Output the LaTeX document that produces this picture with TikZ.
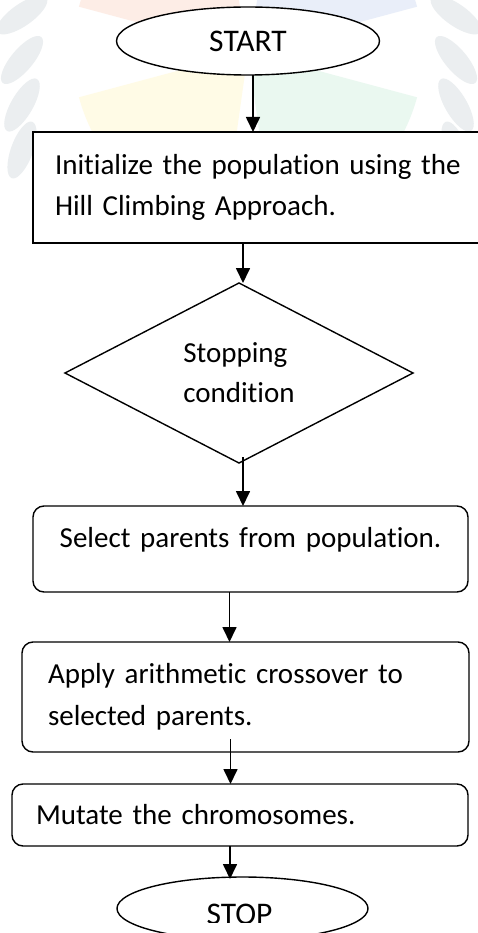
\documentclass[tikz,border=0pt]{standalone}
\usepackage{fontspec}
\setmainfont[Ligatures={NoCommon}]{Carlito}
\usepackage{tikz}
\usetikzlibrary{arrows.meta,positioning,shapes.geometric}
\definecolor{wmorange}{HTML}{FDEDE6}
\definecolor{wmblue}{HTML}{E9EEF9}
\definecolor{wmyellow}{HTML}{FFFBE6}
\definecolor{wmgreen}{HTML}{EAF8F0}
\definecolor{wmgrey}{HTML}{EBEEF0}
\tikzset{
  terminal/.style={
    ellipse,
    draw=black,
    fill=white,
    line width=1.4pt,
    minimum width=263pt,
    minimum height=68pt,
    inner sep=0pt,
    outer sep=0pt,
    font=\fontsize{31.5}{36}\selectfont
  },
  stepbox/.style={
    draw=black,
    fill=white,
    line width=1.4pt,
    align=left,
    inner xsep=22pt,
    inner ysep=0pt,
    outer sep=0pt,
    font=\fontsize{29}{41.5}\selectfont
  },
  roundstep/.style={
    stepbox,
    rounded corners=11pt
  },
  decision/.style={
    diamond,
    aspect=1.93,
    draw=black,
    fill=white,
    line width=1.4pt,
    align=left,
    minimum width=348pt,
    minimum height=180pt,
    inner sep=0pt,
    outer sep=0pt,
    font=\fontsize{29}{40}\selectfont
  },
  flowarrow/.style={
    -{Triangle[length=15pt,width=14pt]},
    line width=1.7pt,
    draw=black
  },
  leaf/.style={
    fill=wmgrey,
    draw=none
  }
}

\begin{document}
\begin{tikzpicture}[x=1pt,y=1pt]
  \useasboundingbox (0,0) rectangle (478,-933);
  \fill[white] (0,0) rectangle (478,-933);

  % faint watermark behind the chart
  \fill[wmorange] (248,-52) -- ++(100:175) arc[start angle=100,end angle=165,radius=175] -- cycle;
  \fill[wmblue] (248,-52) -- ++(15:175) arc[start angle=15,end angle=80,radius=175] -- cycle;
  \fill[wmyellow] (248,-52) -- ++(195:175) arc[start angle=195,end angle=262,radius=175] -- cycle;
  \fill[wmgreen] (248,-52) -- ++(278:175) arc[start angle=278,end angle=345,radius=175] -- cycle;
  \foreach \y/\r in {-15/35,-60/50,-105/60,-150/70}{
    \fill[leaf, rotate around={\r:(22,\y)}] (22,\y) ellipse[x radius=30, y radius=11];
    \fill[leaf, rotate around={-\r:(456,\y)}] (456,\y) ellipse[x radius=30, y radius=11];
  }

  \node[terminal] (start) at (248,-41) {START};
  \node[stepbox, minimum height=111pt, text width=420pt,
        below=57pt of start, xshift=17pt] (init)
        {Initialize the population using the\\Hill Climbing Approach.};
  \node[decision, below=40pt of init, xshift=-26pt] (cond) {Stopping\\condition};
  \node[roundstep, align=center, minimum height=86pt, text width=391pt,
        text depth=24pt, below=43pt of cond, xshift=11.5pt] (select)
        {Select parents from population.};
  \node[roundstep, minimum height=110pt, text width=395pt,
        inner xsep=26pt, below=50pt of select, xshift=-5pt] (apply)
        {Apply arithmetic crossover to\\selected parents.};
  \node[roundstep, minimum height=62pt, text width=408pt,
        inner xsep=24pt, below=32pt of apply, xshift=-5.5pt] (mutate)
        {Mutate the chromosomes.};
  \node[terminal, minimum width=251pt, minimum height=63pt,
        below=31pt of mutate, xshift=2.5pt] (stop) {};
  % the end label is cut off low, as printed
  \begin{scope}
    \clip (0,-860) rectangle (478,-922);
    \node[font=\fontsize{31.5}{36}\selectfont, xshift=-3pt, yshift=-6pt] (stoptext) at (stop.center) {STOP};
  \end{scope}

  \draw[flowarrow] ([xshift=5pt]start.south) -- ([xshift=5pt]start.south |- init.north);
  \draw[flowarrow] ([xshift=4pt]cond.north |- init.south) -- ([xshift=4pt]cond.north);
  \draw[flowarrow] ([xshift=4pt,yshift=6pt]cond.south) -- ([xshift=4pt]cond.south |- select.north);
  \draw[flowarrow] ([xshift=-21pt]select.south) -- ([xshift=-21pt]select.south |- apply.north);
  \draw[flowarrow] ([xshift=-15pt,yshift=13pt]apply.south) -- ([xshift=-15pt]apply.south |- mutate.north);
  \draw[flowarrow] ([xshift=-10pt]mutate.south) -- ([xshift=-10pt,yshift=-2pt]mutate.south |- stop.north);
\end{tikzpicture}
\end{document}
